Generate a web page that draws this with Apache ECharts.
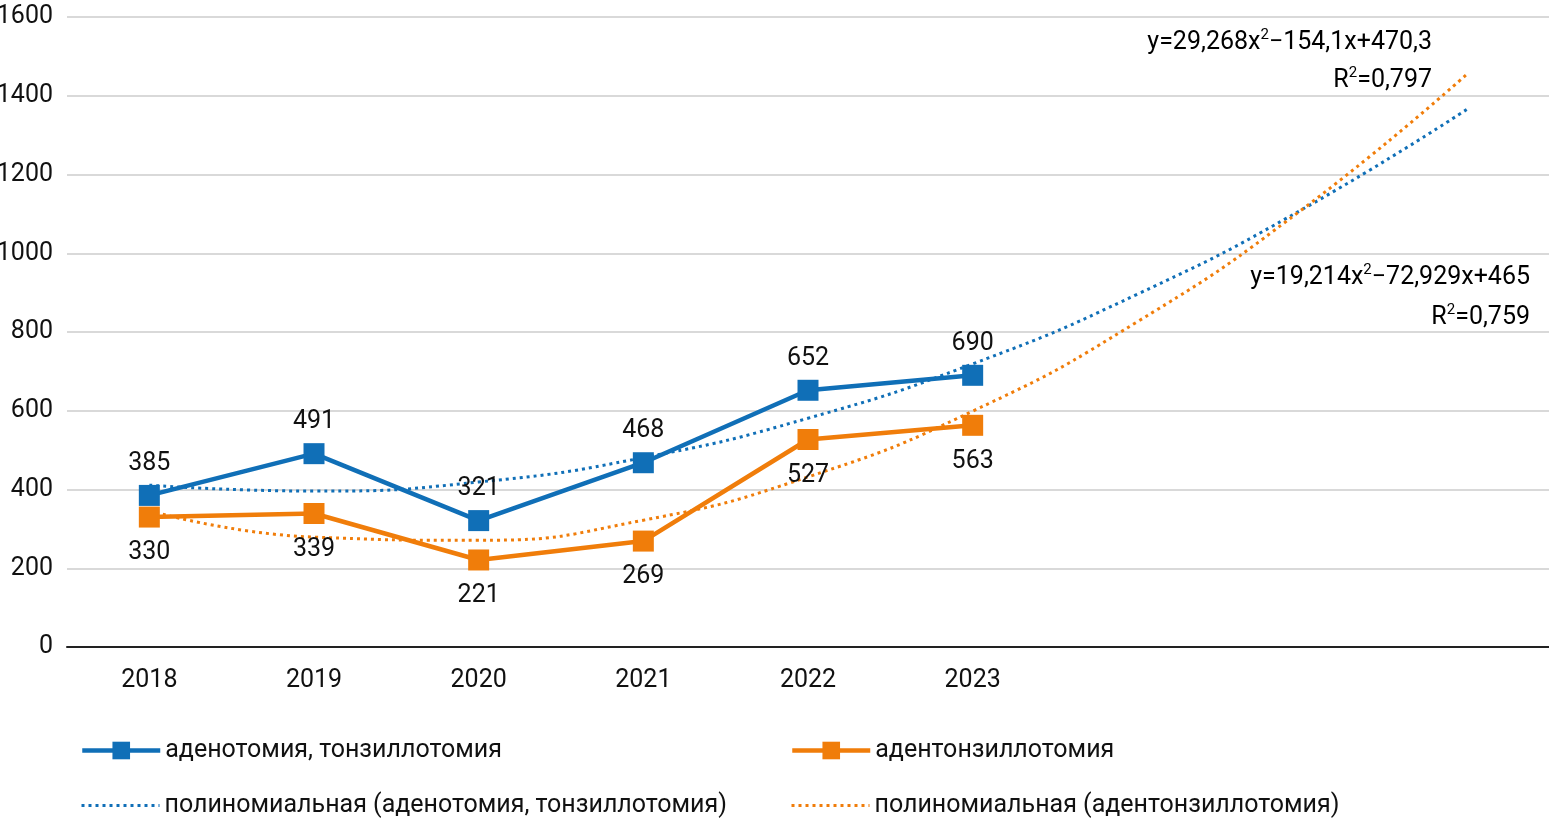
<!DOCTYPE html>
<html><head><meta charset="utf-8">
<script src="https://cdn.jsdelivr.net/npm/echarts@6/dist/echarts.min.js"></script>
<style>html,body{margin:0;padding:0;background:#fff}#c{width:1549px;height:824px}</style>
</head><body><div id="c"></div>
<script>
const categories = ['2018','2019','2020','2021','2022','2023','','',''];
const seriesA = [385, 491, 321, 468, 652, 690];
const seriesB = [330, 339, 221, 269, 527, 563];
// trend curves at each category slot (incl. 3 forecast slots)
const trendA = [411, 396, 419, 481, 581, 719, 896, 1111, 1365];
const trendB = [346, 279, 271, 322, 432, 599, 826, 1111, 1454];
const nameA = 'аденотомия, тонзиллотомия';
const nameB = 'адентонзиллотомия';
const nameTA = 'полиномиальная (аденотомия, тонзиллотомия)';
const nameTB = 'полиномиальная (адентонзиллотомия)';
const yTicks = [0, 200, 400, 600, 800, 1000, 1200, 1400, 1600];

const FONT = 'Roboto, "Noto Sans", sans-serif';
const FS = 25;
const BLUE = '#106FB7';
const ORANGE = '#F07D0A';
const TXT = '#111111';

const chart = echarts.init(document.getElementById('c'), null, {renderer: 'canvas'});
const legendBase = {
  orient: 'horizontal', itemWidth: 78, itemHeight: 22, padding: 0,
  textStyle: {fontFamily: FONT, fontSize: FS, color: TXT}, selectedMode: false
};
const eqRich = {
  a: {fontFamily: FONT, fontSize: FS, color: TXT, lineHeight: 30},
  s: {fontFamily: FONT, fontSize: 15, color: TXT, verticalAlign: 'top', lineHeight: 30, padding: [0,0,10,0]}
};
chart.setOption({
  animation: false,
  backgroundColor: '#fff',
  grid: {left: 67, right: 0, top: 17, bottom: 177, containLabel: false, outerBoundsMode: 'none'},
  xAxis: {
    type: 'category', data: categories, boundaryGap: true,
    axisLine: {lineStyle: {color: '#222', width: 2}},
    axisTick: {show: false},
    axisLabel: {fontFamily: FONT, fontSize: FS, color: TXT, margin: 21, interval: 0},
    splitLine: {show: false}
  },
  yAxis: {
    type: 'value', min: yTicks[0], max: yTicks[yTicks.length-1], interval: 200,
    axisLine: {show: false}, axisTick: {show: false},
    axisLabel: {fontFamily: FONT, fontSize: FS, color: TXT, margin: 14, formatter: v => String(v)},
    splitLine: {lineStyle: {color: '#d9d9d9', width: 2}}
  },
  legend: [
    Object.assign({}, legendBase, {data: [nameA], left: 80, top: 738, lineStyle: {width: 4.5}}),
    Object.assign({}, legendBase, {data: [nameB], left: 790, top: 738, lineStyle: {width: 4.5}}),
    Object.assign({}, legendBase, {data: [nameTA], left: 80, top: 793, itemStyle: {opacity: 0}, lineStyle: {width: 3}}),
    Object.assign({}, legendBase, {data: [nameTB], left: 790, top: 793, itemStyle: {opacity: 0}, lineStyle: {width: 3}})
  ],
  graphic: [
    {type: 'text', right: 1549 - 1432, top: 28, z: 10,
     style: {text: '{a|y=29,268x}{s|2}{a|−154,1x+470,3}', rich: eqRich, align: 'right'}},
    {type: 'text', right: 1549 - 1432, top: 66, z: 10,
     style: {text: '{a|R}{s|2}{a|=0,797}', rich: eqRich, align: 'right'}},
    {type: 'text', right: 1549 - 1530, top: 263, z: 10,
     style: {text: '{a|y=19,214x}{s|2}{a|−72,929x+465}', rich: eqRich, align: 'right'}},
    {type: 'text', right: 1549 - 1530, top: 303, z: 10,
     style: {text: '{a|R}{s|2}{a|=0,759}', rich: eqRich, align: 'right'}}
  ],
  series: [
    {name: nameTA, type: 'line', data: trendA, smooth: 0.5, symbol: 'none', z: 1,
     lineStyle: {color: BLUE, width: 3, type: [3, 4]}, itemStyle: {color: BLUE}, emphasis: {disabled: true}},
    {name: nameTB, type: 'line', data: trendB, smooth: 0.5, symbol: 'none', z: 1,
     lineStyle: {color: ORANGE, width: 3, type: [3, 4]}, itemStyle: {color: ORANGE}, emphasis: {disabled: true}},
    {name: nameA, type: 'line', data: seriesA, symbol: 'rect', symbolSize: 21, z: 3,
     lineStyle: {color: BLUE, width: 4.5}, itemStyle: {color: BLUE},
     label: {show: true, position: 'top', distance: 9, fontFamily: FONT, fontSize: FS, color: TXT},
     emphasis: {disabled: true}},
    {name: nameB, type: 'line', data: seriesB, symbol: 'rect', symbolSize: 21, z: 3,
     lineStyle: {color: ORANGE, width: 4.5}, itemStyle: {color: ORANGE},
     label: {show: true, position: 'bottom', distance: 13, fontFamily: FONT, fontSize: FS, color: TXT},
     emphasis: {disabled: true}}
  ]
});
</script></body></html>
